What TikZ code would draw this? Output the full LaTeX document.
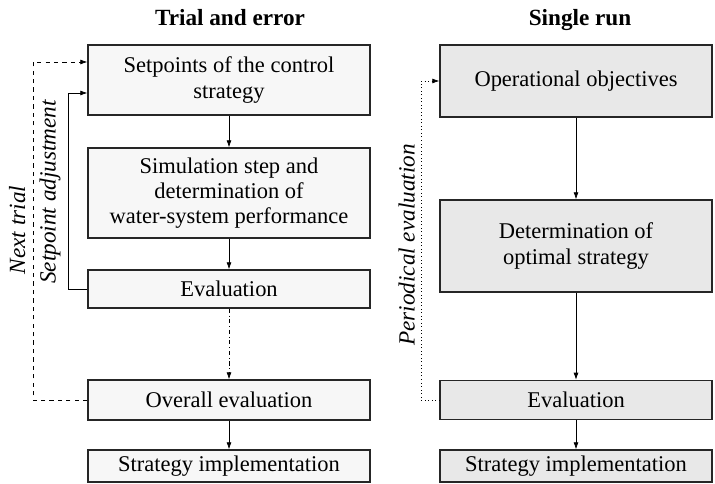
\documentclass[tikz,border=0pt]{standalone}
\usepackage{fontspec}
\setmainfont{Liberation Serif}
\usetikzlibrary{arrows.meta}

\tikzset{
	lbox/.style={rectangle, draw=black!85, line width=0.9pt, fill=gray!6, minimum width=7.05cm, align=center, inner sep=1pt, font=\fontsize{16}{18}\selectfont},
	rbox/.style={lbox, fill=gray!18, minimum width=6.8cm},
	flow/.style={line width=0.5pt, -{Latex[length=5pt,width=3.5pt]}},
	title/.style={font=\bfseries\fontsize{16.5}{18}\selectfont},
	side/.style={font=\itshape\fontsize{16.5}{18}\selectfont, rotate=90}
}

\begin{document}
\begin{tikzpicture}
	\useasboundingbox (0,0) rectangle (17.875,-12.1);

	\node[title](trialTitle) at (5.75,-0.45){Trial and error};
	\node[title](singleTitle) at (14.5,-0.5){Single run};

	% trial and error column
	\node[lbox, minimum height=1.75cm](setBox) at (5.725,-2.0){Setpoints of the control\\strategy};
	\node[lbox, minimum height=2.25cm](simBox) at (5.725,-4.825){Simulation step and\\determination of\\water-system performance};
	\node[lbox, minimum height=0.95cm](evalBox) at (5.725,-7.225){Evaluation};
	\node[lbox, minimum height=1.0cm](overallBox) at (5.725,-10.0){Overall evaluation};
	\node[lbox, minimum height=0.8cm](implBox) at (5.725,-11.65){Strategy implementation};

	% single run column
	\node[rbox, minimum height=1.8cm](objBox) at (14.4,-2.025){Operational objectives};
	\node[rbox, minimum height=2.3cm](detBox) at (14.4,-6.15){Determination of\\optimal strategy};
	\node[rbox, minimum height=0.98cm](revalBox) at (14.4,-10.0){Evaluation};
	\node[rbox, minimum height=0.8cm](rimplBox) at (14.4,-11.65){Strategy implementation};

	\draw[flow] (setBox) -- (simBox);
	\draw[flow] (simBox) -- (evalBox);
	\draw[flow, dash dot] (evalBox) -- (overallBox);
	\draw[flow] (overallBox) -- (implBox);

	\draw[flow] (objBox) -- (detBox);
	\draw[flow] (detBox) -- (revalBox);
	\draw[flow] (revalBox) -- (rimplBox);

	% feedback loops
	\coordinate (nextTop) at (0.825,-1.55);
	\coordinate (adjTop) at (1.7,-2.325);
	\coordinate (perTop) at (10.525,-2.025);
	\draw[flow, dashed] (overallBox.west) -| (nextTop) -- (nextTop -| setBox.west);
	\draw[flow] (evalBox.west) -| (adjTop) -- (adjTop -| setBox.west);
	\draw[flow, dotted] (revalBox.west) -| (perTop) -- (objBox.west);

	\node[side](nextLabel) at (0.43,-5.75){Next trial};
	\node[side](adjLabel) at (1.25,-4.8){Setpoint adjustment};
	\node[side](perLabel) at (10.17,-6.125){Periodical evaluation};
\end{tikzpicture}
\end{document}
